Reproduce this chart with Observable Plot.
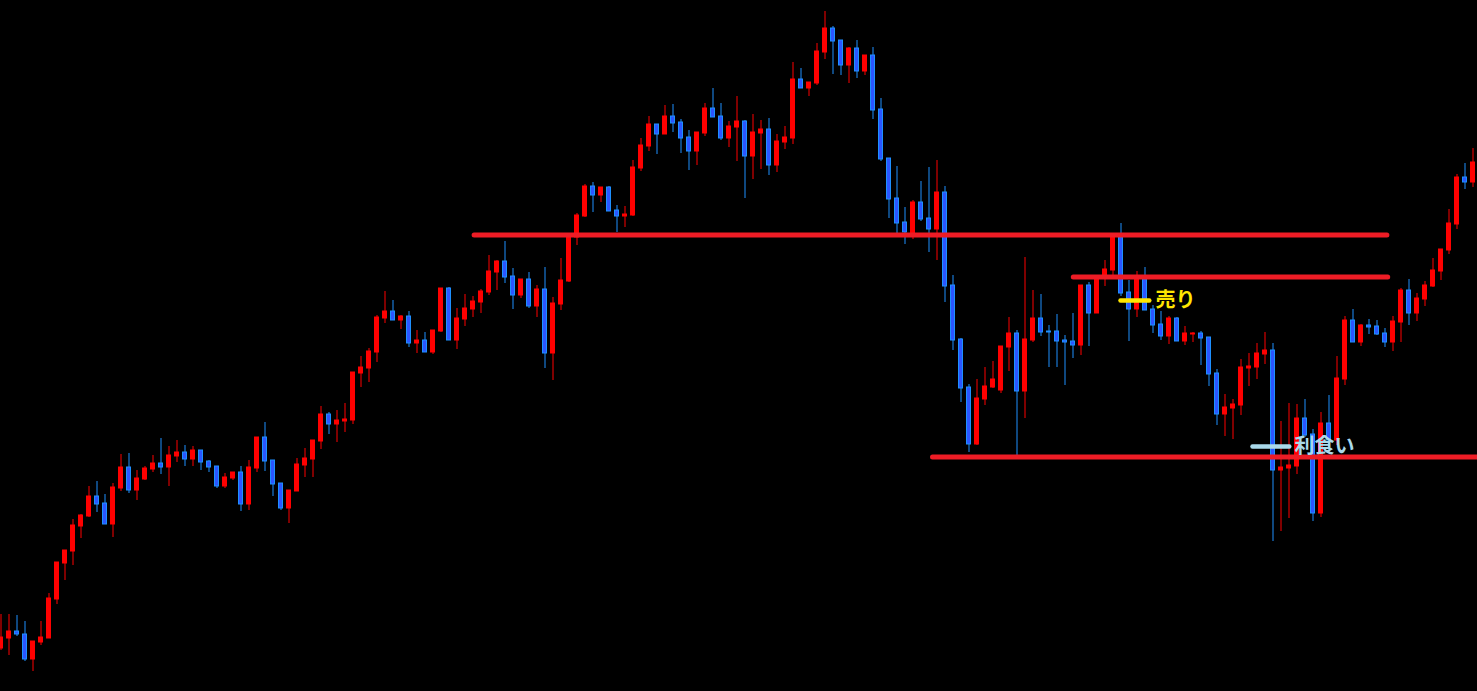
<!DOCTYPE html>
<html>
<head>
<meta charset="utf-8">
<script src="https://cdn.jsdelivr.net/npm/d3@7"></script>
<script src="https://cdn.jsdelivr.net/npm/@observablehq/plot@0.6"></script>
<style>
  html, body { margin: 0; padding: 0; background: #000; overflow: hidden; }
  #chart svg { display: block; }
</style>
</head>
<body>
<div id="chart"></div>
<script>
// Candle OHLC values (arbitrary price units), one entry per bar, left to right
const opens = [
  43,53,60,57,32,49,53,92,128,140,
  165,175,195,188,167,203,224,201,212,222,
  228,224,235,239,232,241,230,225,205,213,
  219,187,223,254,231,208,183,200,226,232,
  250,277,267,270,271,318,323,339,373,380,
  371,375,348,351,339,360,403,351,372,382,
  389,399,419,430,415,396,412,385,402,338,
  387,410,454,475,505,496,504,481,475,476,
  523,545,567,557,575,569,554,540,558,583,
  575,553,564,570,535,558,562,526,549,553,
  612,603,608,639,663,651,626,643,620,636,
  582,533,493,469,456,489,473,462,499,406,
  352,304,247,292,304,301,344,358,300,351,
  373,360,360,351,350,346,406,378,414,421,
  454,399,382,412,382,367,355,373,350,357,
  358,354,318,277,283,286,323,324,337,341,
  221,223,225,273,257,178,268,251,312,371,
  349,366,365,358,349,369,401,378,392,405,
  420,441,467,514,509
];
const highs = [
  77,77,76,70,50,70,98,129,141,172,
  177,205,210,197,208,237,238,221,225,236,
  253,245,251,246,245,241,231,225,218,219,
  225,231,254,269,231,208,201,233,243,251,
  285,279,281,288,319,335,343,376,400,391,
  376,380,361,359,361,403,404,383,397,395,
  402,436,431,450,423,412,419,406,424,394,
  433,457,478,507,509,504,505,486,485,531,
  553,575,567,586,587,572,561,559,588,603,
  588,570,595,571,577,571,573,557,565,629,
  623,609,648,680,665,651,644,651,636,644,
  593,533,525,484,491,510,524,531,505,416,
  353,307,312,324,330,345,374,361,434,401,
  397,366,377,356,378,406,409,415,431,458,
  468,411,420,424,386,380,375,374,365,359,
  360,354,322,297,292,332,338,348,359,348,
  270,288,287,292,262,279,296,335,375,382,
  367,372,371,363,375,403,412,398,410,433,
  442,482,517,528,543
];
const lows = [
  41,36,55,30,20,46,53,87,111,126,
  153,174,179,167,154,200,198,191,211,219,
  217,205,229,225,225,221,219,203,203,211,
  180,181,219,220,195,181,168,200,214,214,
  242,257,249,259,267,304,309,329,368,371,
  362,344,338,339,337,359,351,342,365,374,
  378,396,401,408,382,393,383,374,323,311,
  381,409,446,474,479,489,480,459,464,475,
  520,540,537,557,559,538,521,526,555,574,
  551,544,530,493,512,522,516,519,542,547,
  603,595,606,632,617,616,608,613,616,572,
  530,473,458,447,452,470,439,431,389,341,
  289,239,246,286,303,298,320,236,273,349,
  355,324,324,306,333,336,345,378,405,416,
  395,350,374,381,358,351,347,350,346,349,
  326,305,266,255,252,276,305,312,327,150,
  160,173,217,254,170,174,239,246,306,349,
  345,357,356,344,340,349,366,370,385,404,
  411,437,462,502,504
];
const closes = [
  54,60,57,32,50,54,93,129,141,166,
  176,195,187,167,204,224,201,213,223,228,
  224,236,239,232,241,229,224,205,214,219,
  187,224,254,230,207,183,201,227,233,251,
  277,267,271,272,319,324,340,374,380,371,
  375,348,351,339,361,403,351,373,383,390,
  400,420,430,414,396,412,385,402,338,388,
  411,455,476,505,496,504,480,475,477,524,
  546,567,557,575,568,553,540,559,583,574,
  553,565,570,535,559,562,526,550,554,612,
  603,609,640,663,650,626,643,620,636,581,
  532,492,468,459,489,472,462,499,405,351,
  303,247,293,305,312,345,358,300,352,373,
  359,359,350,349,346,406,378,414,422,454,
  398,382,412,381,366,355,373,350,358,358,
  353,317,277,284,287,324,325,338,341,221,
  224,226,273,256,178,268,251,313,371,349,
  366,364,357,349,370,401,378,393,406,421,
  442,468,514,509,529
];

// Horizontal levels (price) and the bar-index span each one covers
const levelPrices = [456.5, 414.5, 234.5];
const levelFrom   = [59.2, 134.1, 116.5];
const levelTo     = [173.3, 173.4, 185];

// Annotations: label text, price, marker span (bar index)
const noteLabels = ["売り", "利食い"];
const notePrices = [391, 245];
const noteFrom   = [140.0, 156.5];
const noteTo     = [143.6, 161.1];
const noteTextAt = [144.3, 161.7];
const noteColors = ["#ffe600", "#a9d9ea"];

const UP = "#ff0000", DOWN_FILL = "#2b55ff", DOWN_EDGE = "#1e90ff", LEVEL = "#ee1c25";

const bars = opens.map((o, i) => ({
  i, open: o, high: highs[i], low: lows[i], close: closes[i], up: closes[i] > o
}));
const levels = levelPrices.map((v, j) => ({v, from: levelFrom[j], to: levelTo[j]}));
const notes = noteLabels.map((t, j) => ({
  t, v: notePrices[j], from: noteFrom[j], to: noteTo[j], at: noteTextAt[j], c: noteColors[j]
}));

const chart = Plot.plot({
  width: 1477,
  height: 691,
  margin: 0,
  style: {background: "#000"},
  x: {type: "linear", domain: [-0.0625, 184.5625], axis: null},
  y: {domain: [0, 691], axis: null},
  marks: [
    Plot.ruleX(bars, {
      x: "i", y1: "low", y2: "high",
      stroke: d => d.up ? UP : DOWN_EDGE, strokeWidth: 1
    }),
    Plot.rect(bars, {
      x1: d => d.i - 0.25, x2: d => d.i + 0.25,
      y1: "open", y2: "close",
      fill: d => d.up ? UP : DOWN_FILL,
      stroke: d => d.up ? UP : DOWN_EDGE, strokeWidth: 1
    }),
    Plot.ruleY(levels, {
      y: "v", x1: "from", x2: "to",
      stroke: LEVEL, strokeWidth: 5, strokeLinecap: "round"
    }),
    Plot.ruleY(notes, {
      y: "v", x1: "from", x2: "to",
      stroke: d => d.c, strokeWidth: 4.5, strokeLinecap: "round"
    }),
    Plot.text(notes, {
      x: "at", y: "v", text: "t", fill: d => d.c,
      textAnchor: "start", fontSize: 20, fontWeight: "bold",
      fontFamily: "'Noto Sans CJK JP', 'Noto Sans', sans-serif"
    })
  ]
});
document.getElementById("chart").append(chart);
</script>
</body>
</html>
